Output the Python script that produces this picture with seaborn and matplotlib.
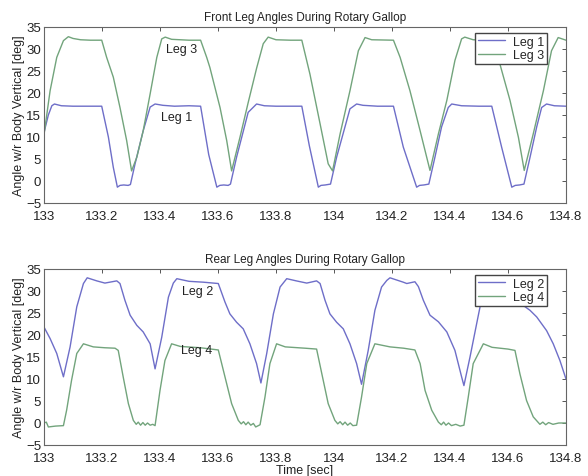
import numpy as np
import pandas as pd
import matplotlib
matplotlib.use('Agg')
import matplotlib.pyplot as plt
import seaborn as sns

# ---- data ----
leg1_t = [133.000, 133.015, 133.027, 133.036, 133.060, 133.100, 133.150, 133.199, 133.222, 133.239,
          133.253, 133.262, 133.275, 133.290, 133.298, 133.314, 133.342, 133.366, 133.383, 133.410,
          133.450, 133.500, 133.540, 133.568, 133.596, 133.606, 133.620, 133.635, 133.643, 133.664,
          133.704, 133.733, 133.760, 133.800, 133.850, 133.889, 133.915, 133.946, 133.955, 133.970,
          133.988, 134.009, 134.055, 134.078, 134.100, 134.150, 134.205, 134.239, 134.285, 134.295,
          134.310, 134.327, 134.348, 134.371, 134.394, 134.406, 134.440, 134.500, 134.544, 134.578,
          134.613, 134.625, 134.640, 134.655, 134.676, 134.699, 134.716, 134.733, 134.760, 134.800]
leg1_v = [11.0, 15.0, 17.1, 17.5, 17.1, 17.0, 17.0, 17.0, 10.0, 3.1,
          -1.4, -1.0, -0.9, -1.0, -0.8, 3.9, 11.4, 16.8, 17.5, 17.2,
          17.0, 17.1, 17.0, 6.0, -1.4, -1.0, -0.9, -1.0, -0.7, 5.4,
          15.6, 17.5, 17.1, 17.0, 17.0, 17.0, 8.0, -1.4, -1.0, -0.9,
          -0.7, 5.4, 16.4, 17.5, 17.2, 17.0, 17.0, 7.7, -1.4, -1.0,
          -0.9, -0.7, 5.4, 12.3, 16.7, 17.5, 17.1, 17.0, 17.0, 7.7,
          -1.4, -1.0, -0.9, -0.7, 5.4, 12.3, 16.7, 17.5, 17.1, 17.0]

leg3_t = [133.000, 133.021, 133.044, 133.067, 133.084, 133.100, 133.126, 133.160, 133.199, 133.216,
          133.239, 133.262, 133.285, 133.302, 133.320, 133.342, 133.366, 133.389, 133.406, 133.418,
          133.440, 133.500, 133.540, 133.561, 133.572, 133.607, 133.630, 133.647, 133.676, 133.704,
          133.733, 133.756, 133.773, 133.800, 133.850, 133.889, 133.917, 133.952, 133.980, 133.995,
          134.021, 134.055, 134.084, 134.107, 134.130, 134.205, 134.228, 134.262, 134.297, 134.331,
          134.360, 134.389, 134.417, 134.440, 134.451, 134.480, 134.530, 134.548, 134.572, 134.607,
          134.636, 134.656, 134.687, 134.722, 134.750, 134.773, 134.800]
leg3_v = [10.5, 20.5, 28.1, 31.9, 32.8, 32.4, 32.1, 32.0, 32.0, 28.1,
          23.6, 16.7, 9.2, 2.3, 5.4, 11.4, 19.8, 28.1, 32.3, 32.7,
          32.2, 32.0, 32.0, 28.1, 25.8, 16.7, 9.2, 2.3, 10.0, 17.8,
          25.6, 31.2, 32.7, 32.1, 32.0, 32.0, 24.3, 13.0, 3.9, 2.3,
          10.7, 20.5, 29.6, 32.6, 32.1, 32.0, 28.1, 20.5, 11.4, 2.4,
          10.7, 18.3, 27.4, 32.3, 32.7, 32.1, 32.0, 31.0, 26.6, 18.3,
          9.9, 2.4, 10.7, 20.5, 29.6, 32.6, 32.0]

leg2_t = [133.000, 133.021, 133.044, 133.067, 133.090, 133.113, 133.136, 133.149, 133.182, 133.210,
          133.251, 133.262, 133.279, 133.297, 133.320, 133.342, 133.366, 133.383, 133.406, 133.429,
          133.446, 133.458, 133.500, 133.550, 133.601, 133.624, 133.641, 133.664, 133.687, 133.710,
          133.733, 133.748, 133.768, 133.791, 133.814, 133.837, 133.870, 133.906, 133.940, 133.952,
          133.969, 133.986, 134.009, 134.032, 134.055, 134.078, 134.095, 134.118, 134.141, 134.164,
          134.182, 134.193, 134.239, 134.251, 134.279, 134.291, 134.308, 134.331, 134.360, 134.389,
          134.417, 134.440, 134.448, 134.469, 134.492, 134.510, 134.525, 134.535, 134.570, 134.600,
          134.625, 134.640, 134.653, 134.676, 134.699, 134.733, 134.756, 134.779, 134.800]
leg2_v = [21.8, 19.2, 15.8, 10.5, 17.3, 26.4, 31.7, 33.0, 32.3, 31.8,
          32.3, 31.7, 27.9, 24.5, 22.2, 20.7, 18.0, 12.3, 19.5, 28.6,
          31.8, 32.8, 32.2, 32.0, 31.7, 27.5, 24.8, 22.9, 21.4, 18.0,
          13.5, 9.1, 15.8, 24.8, 30.9, 32.8, 32.3, 31.8, 32.3, 31.7,
          27.9, 24.8, 22.9, 21.4, 18.0, 13.5, 8.8, 16.5, 25.6, 30.9,
          32.4, 33.0, 32.0, 31.7, 32.1, 31.0, 27.9, 24.5, 23.0, 20.7,
          16.5, 10.5, 8.5, 15.0, 22.6, 28.5, 32.3, 33.0, 32.3, 31.8,
          31.5, 29.0, 26.7, 25.6, 24.1, 21.0, 18.0, 14.2, 10.0]

leg4_t = [133.000, 133.008, 133.015, 133.040, 133.067, 133.078, 133.095, 133.113, 133.136, 133.170,
          133.210, 133.245, 133.256, 133.273, 133.291, 133.308, 133.318, 133.325, 133.333, 133.341,
          133.349, 133.357, 133.366, 133.375, 133.383, 133.400, 133.417, 133.440, 133.470, 133.540,
          133.601, 133.624, 133.647, 133.670, 133.680, 133.688, 133.696, 133.704, 133.713, 133.722,
          133.730, 133.745, 133.762, 133.779, 133.802, 133.832, 133.900, 133.940, 133.958, 133.980,
          134.003, 134.013, 134.021, 134.030, 134.038, 134.047, 134.056, 134.065, 134.078, 134.095,
          134.113, 134.141, 134.193, 134.240, 134.279, 134.297, 134.314, 134.337, 134.360, 134.370,
          134.378, 134.386, 134.395, 134.405, 134.420, 134.435, 134.448, 134.463, 134.480, 134.515,
          134.545, 134.600, 134.624, 134.641, 134.664, 134.687, 134.710, 134.720, 134.730, 134.740,
          134.755, 134.775, 134.800]
leg4_v = [0.0, 0.2, -0.9, -0.7, -0.6, 2.9, 9.7, 15.8, 18.0, 17.3,
          17.1, 17.0, 16.5, 10.5, 4.4, 0.6, -0.3, 0.2, -0.5, 0.1,
          -0.5, 0.0, -0.5, -0.3, -0.6, 7.4, 14.2, 18.0, 17.4, 17.1,
          16.6, 10.5, 4.4, 0.6, -0.2, 0.3, -0.4, 0.2, -0.5, -0.1,
          -0.9, -0.4, 5.9, 13.5, 18.0, 17.3, 17.0, 16.8, 11.2, 4.4,
          0.6, -0.2, 0.3, -0.4, 0.2, -0.5, 0.0, -0.6, -0.5, 5.9,
          13.5, 18.0, 17.3, 17.0, 16.6, 13.5, 7.4, 2.9, 0.2, -0.4,
          0.2, -0.5, 0.0, -0.6, -0.3, -0.7, -0.5, 5.9, 13.5, 18.0,
          17.2, 16.8, 16.5, 11.2, 5.1, 1.4, -0.3, 0.2, -0.4, 0.1,
          -0.3, 0.0, 0.0]

x_ticks = [133, 133.2, 133.4, 133.6, 133.8, 134, 134.2, 134.4, 134.6, 134.8]
x_labels = ['133', '133.2', '133.4', '133.6', '133.8', '134', '134.2', '134.4', '134.6', '134.8']
y_ticks = [-5, 0, 5, 10, 15, 20, 25, 30, 35]

blue = '#6e6ec8'
green = '#72a47c'

sns.set_style('white')
plt.rcParams['font.family'] = ['Liberation Sans', 'DejaVu Sans']

fig = plt.figure(figsize=(5.88, 4.77), dpi=100)
ax1 = fig.add_axes([44 / 588, 1 - 204 / 477, 522 / 588, 176 / 477])
ax2 = fig.add_axes([44 / 588, 1 - 446 / 477, 522 / 588, 176 / 477])


def draw(ax, t_a, v_a, lab_a, t_b, v_b, lab_b, title):
    df_a = pd.DataFrame({'t': t_a, 'v': v_a})
    df_b = pd.DataFrame({'t': t_b, 'v': v_b})
    sns.lineplot(data=df_a, x='t', y='v', ax=ax, color=blue, lw=1.0, label=lab_a, sort=False)
    sns.lineplot(data=df_b, x='t', y='v', ax=ax, color=green, lw=1.0, label=lab_b, sort=False)
    ax.set_xlim(133, 134.8)
    ax.set_ylim(-5, 35)
    ax.set_xticks(x_ticks)
    ax.set_xticklabels(x_labels)
    ax.set_yticks(y_ticks)
    ax.tick_params(direction='in', top=True, right=True, length=3, width=0.7,
                   color='#555555', labelsize=9.5, labelcolor='#222222')
    ax.tick_params(axis='x', pad=5)
    ax.tick_params(axis='y', pad=2)
    for s in ax.spines.values():
        s.set_color('#666666')
        s.set_linewidth(0.8)
    ax.set_title(title, fontsize=8.5, pad=5, color='#222222')
    ax.set_ylabel('Angle w/r Body Vertical [deg]', fontsize=9, labelpad=1, color='#222222')
    ax.set_xlabel('')
    ax.legend(loc='upper right', bbox_to_anchor=(0.964, 0.968), fontsize=9,
              frameon=True, fancybox=False, edgecolor='#444444', framealpha=1,
              borderpad=0.25, labelspacing=0.1, handlelength=2.2, handletextpad=0.6,
              borderaxespad=0)


draw(ax1, leg1_t, leg1_v, 'Leg 1', leg3_t, leg3_v, 'Leg 3',
     'Front Leg Angles During Rotary Gallop')
draw(ax2, leg2_t, leg2_v, 'Leg 2', leg4_t, leg4_v, 'Leg 4',
     'Rear Leg Angles During Rotary Gallop')

# in-plot labels
ax1.text(133.476, 30, 'Leg 3', fontsize=9, ha='center', va='center', color='#222222')
ax1.text(133.457, 14.5, 'Leg 1', fontsize=9, ha='center', va='center', color='#222222')
ax2.text(133.531, 30, 'Leg 2', fontsize=9, ha='center', va='center', color='#222222')
ax2.text(133.528, 16.5, 'Leg 4', fontsize=9, ha='center', va='center', color='#222222')

ax2.set_xlabel('Time [sec]', fontsize=9, labelpad=0, color='#222222')

fig.savefig('out.png', dpi=100)
